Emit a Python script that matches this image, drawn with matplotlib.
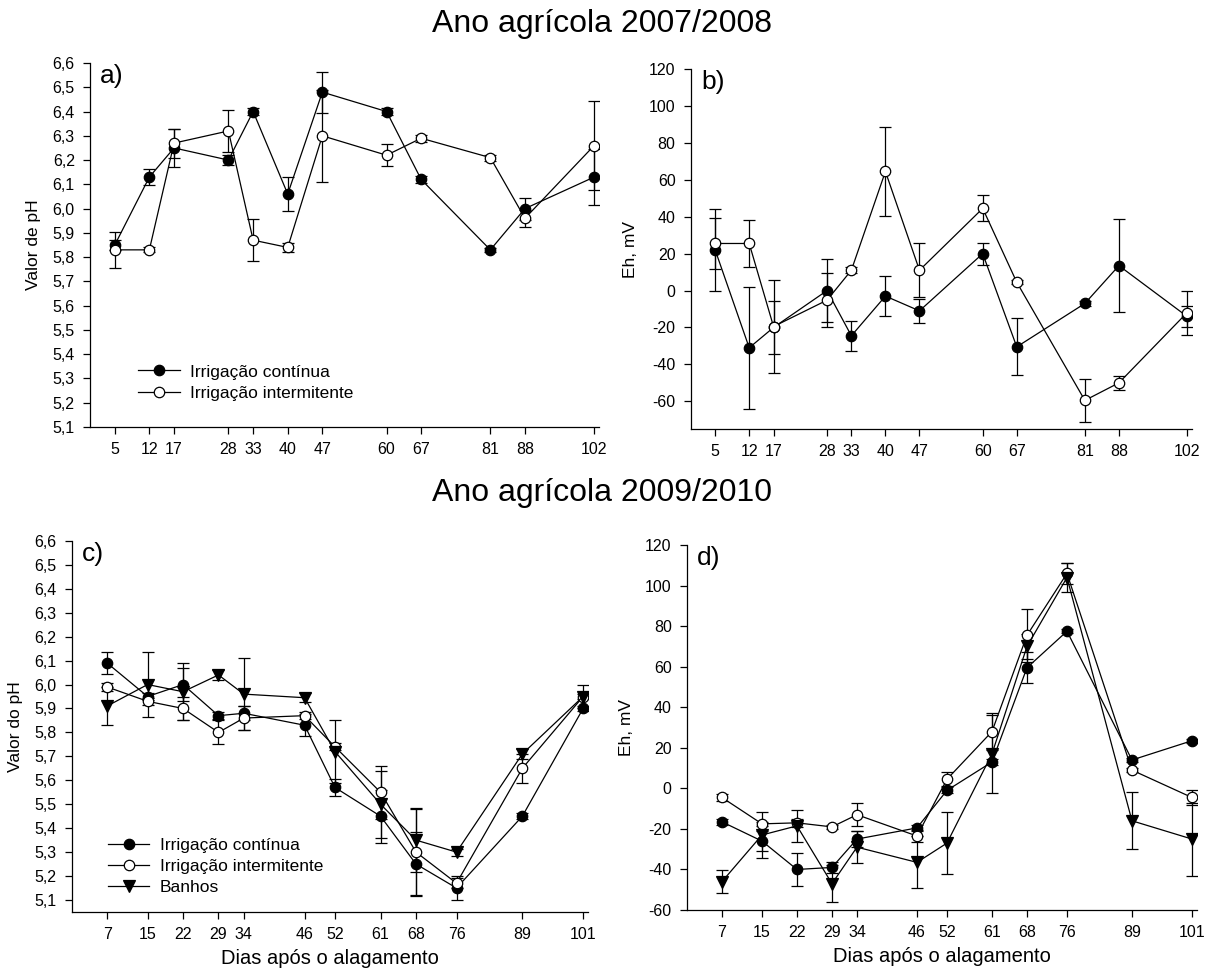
import numpy as np
import matplotlib
matplotlib.use('Agg')
import matplotlib.pyplot as plt
from matplotlib.lines import Line2D

plt.rcParams['font.family'] = ['Liberation Sans', 'DejaVu Sans']

# ---- 2007/2008 ----
days_a = [5, 12, 17, 28, 33, 40, 47, 60, 67, 81, 88, 102]
ph_cont_a = [5.85, 6.13, 6.25, 6.20, 6.40, 6.06, 6.48, 6.40, 6.12, 5.83, 6.00, 6.13]
ph_cont_a_err = [0.02, 0.033, 0.08, 0.02, 0.015, 0.07, 0.085, 0.015, 0.015, 0.008, 0.045, 0.115]
ph_int_a = [5.83, 5.83, 6.27, 6.32, 5.87, 5.84, 6.30, 6.22, 6.29, 6.21, 5.96, 6.26]
ph_int_a_err = [0.075, 0.01, 0.06, 0.085, 0.087, 0.02, 0.19, 0.045, 0.015, 0.012, 0.035, 0.185]

eh_cont_b = [22, -31, -20, 0, -24.5, -3, -11, 20, -30.5, -7, 13.5, -14]
eh_cont_b_err = [22, 33, 14.5, 17, 8, 11, 6.5, 6, 15.5, 1.5, 25, 5.6]
eh_int_b = [25.5, 25.5, -19.5, -5.2, 11, 64.5, 11, 44.5, 4.5, -59.5, -50, -12]
eh_int_b_err = [14, 12.5, 25, 14.5, 1.5, 24, 14.5, 7, 1, 11.7, 3.6, 12]

# ---- 2009/2010 ----
days_c = [7, 15, 22, 29, 34, 46, 52, 61, 68, 76, 89, 101]
ph_cont_c = [6.09, 5.95, 6.00, 5.87, 5.88, 5.83, 5.57, 5.45, 5.25, 5.15, 5.45, 5.90]
ph_cont_c_err = [0.045, 0.015, 0.07, 0.015, 0.03, 0.045, 0.035, 0.11, 0.135, 0.05, 0.012, 0.01]
ph_int_c = [5.99, 5.93, 5.90, 5.80, 5.86, 5.87, 5.74, 5.55, 5.30, 5.17, 5.65, 5.95]
ph_int_c_err = [0.015, 0.015, 0.05, 0.05, 0.05, 0.015, 0.015, 0.11, 0.18, 0.02, 0.06, 0.01]
ph_ban_c = [5.91, 6.00, 5.97, 6.04, 5.96, 5.945, 5.72, 5.50, 5.35, 5.30, 5.71, 5.95]
ph_ban_c_err = [0.08, 0.135, 0.12, 0.02, 0.15, 0.02, 0.13, 0.14, 0.135, 0.015, 0.02, 0.05]

eh_cont_d = [-16.5, -26, -40, -39, -25, -19.5, -1, 13, 59.5, 77.5, 14, 23.5]
eh_cont_d_err = [1.5, 5, 8, 2.5, 4, 1.5, 1.5, 1.5, 7.7, 1, 1, 1]
eh_int_d = [-4.5, -17.5, -17, -19, -13, -23.5, 4.5, 28, 75.5, 106, 9, -4.5]
eh_int_d_err = [1.5, 1, 2, 1, 5.8, 3, 3.5, 9, 13, 5, 1, 3.5]
eh_ban_d = [-46, -23, -18.5, -47, -29, -36.5, -27, 17, 70, 104, -16, -25]
eh_ban_d_err = [5.5, 11.5, 8, 9, 8, 12.8, 15.3, 19.4, 6, 7, 14, 18]

lab_cont = 'Irrigação contínua'
lab_int = 'Irrigação intermitente'
lab_ban = 'Banhos'

ph_ticks = np.round(np.arange(5.1, 6.61, 0.1), 1)
eh_ticks = np.arange(-60, 121, 20)

fig = plt.figure(figsize=(12.12, 9.68), dpi=100)
ax_a = fig.add_axes([0.0743, 0.5589, 0.420, 0.376])
ax_b = fig.add_axes([0.570, 0.5568, 0.4134, 0.3719])
ax_c = fig.add_axes([0.0591, 0.0579, 0.4262, 0.3833])
ax_d = fig.add_axes([0.5668, 0.0599, 0.4208, 0.377])

def msize(marker):
    return 7.5 if marker == 'o' else 8.5

def series(ax, x, y, err, marker, face):
    ax.errorbar(x, y, yerr=err, fmt='-' + marker, color='black', mfc=face, mec='black',
                ms=msize(marker), mew=0.9, lw=0.9, elinewidth=0.9,
                capsize=4.5, capthick=0.9)

def handle(marker, face, label):
    return Line2D([], [], color='black', lw=0.9, marker=marker, mfc=face, mec='black',
                  ms=msize(marker), mew=0.9, label=label)

def style(ax, days, xmax, ylim, yticks, fmt, letter):
    ax.set_xlim(0, xmax)
    ax.set_ylim(*ylim)
    ax.set_xticks(days)
    ax.set_xticklabels([str(d) for d in days])
    ax.set_yticks(yticks)
    ax.set_yticklabels([fmt(v) for v in yticks])
    for s in ['top', 'right']:
        ax.spines[s].set_visible(False)
    for s in ['left', 'bottom']:
        ax.spines[s].set_linewidth(0.9)
    ax.tick_params(direction='out', length=5, width=0.9, labelsize=11.5, pad=6)
    ax.text(0.02, 0.997, letter, transform=ax.transAxes, fontsize=19, va='top', ha='left')

comma = lambda v: f'{v:.1f}'.replace('.', ',')
integer = lambda v: f'{int(v)}'
leg_kw = dict(loc='upper left', frameon=False, fontsize=12.5, handlelength=2.4,
              handletextpad=0.6, labelspacing=0.35, borderpad=0, borderaxespad=0)

series(ax_a, days_a, ph_cont_a, ph_cont_a_err, 'o', 'black')
series(ax_a, days_a, ph_int_a, ph_int_a_err, 'o', 'white')
style(ax_a, days_a, 103, (5.1, 6.6), ph_ticks, comma, 'a)')
ax_a.set_ylabel('Valor de pH', fontsize=12.5, labelpad=8)
ax_a.legend(handles=[handle('o', 'black', lab_cont), handle('o', 'white', lab_int)],
            bbox_to_anchor=(0.095, 0.172), **leg_kw)

series(ax_b, days_a, eh_cont_b, eh_cont_b_err, 'o', 'black')
series(ax_b, days_a, eh_int_b, eh_int_b_err, 'o', 'white')
style(ax_b, days_a, 103, (-75, 120), eh_ticks, integer, 'b)')
ax_b.set_ylabel('Eh, mV', fontsize=12.5, labelpad=8)

series(ax_c, days_c, ph_cont_c, ph_cont_c_err, 'o', 'black')
series(ax_c, days_c, ph_int_c, ph_int_c_err, 'o', 'white')
series(ax_c, days_c, ph_ban_c, ph_ban_c_err, 'v', 'black')
style(ax_c, days_c, 102, (5.05, 6.6), ph_ticks, comma, 'c)')
ax_c.set_ylabel('Valor do pH', fontsize=12.5, labelpad=8)
ax_c.set_xlabel('Dias após o alagamento', fontsize=14.5, labelpad=5)
ax_c.legend(handles=[handle('o', 'black', lab_cont), handle('o', 'white', lab_int),
                     handle('v', 'black', lab_ban)],
            bbox_to_anchor=(0.07, 0.2), **leg_kw)

series(ax_d, days_c, eh_cont_d, eh_cont_d_err, 'o', 'black')
series(ax_d, days_c, eh_int_d, eh_int_d_err, 'o', 'white')
series(ax_d, days_c, eh_ban_d, eh_ban_d_err, 'v', 'black')
style(ax_d, days_c, 102, (-60, 120), eh_ticks, integer, 'd)')
ax_d.set_ylabel('Eh, mV', fontsize=12.5, labelpad=8)
ax_d.set_xlabel('Dias após o alagamento', fontsize=14.5, labelpad=5)

fig.text(0.497, 1 - 24 / 968, 'Ano agrícola 2007/2008', fontsize=23, ha='center', va='center')
fig.text(0.497, 1 - 493 / 968, 'Ano agrícola 2009/2010', fontsize=23, ha='center', va='center')

fig.savefig('out.png', dpi=100)
